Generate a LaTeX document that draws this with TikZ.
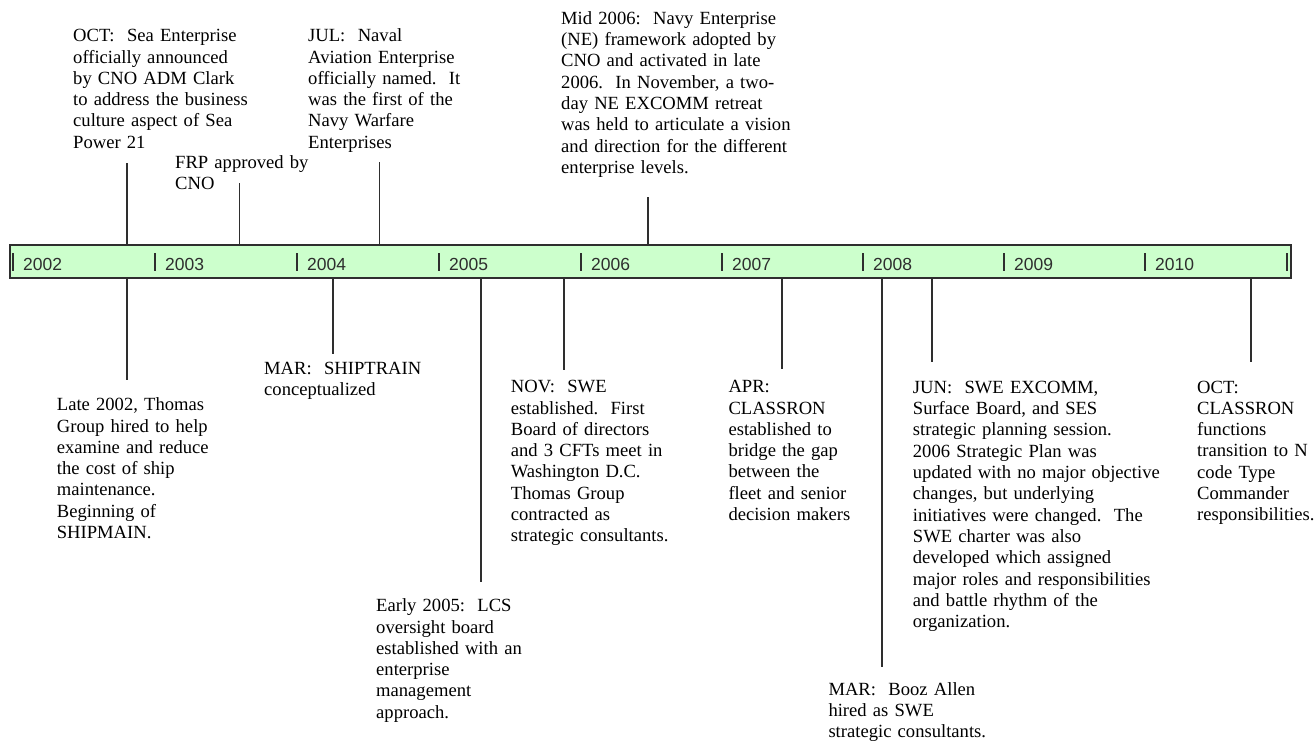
\documentclass[tikz,border=0pt]{standalone}
\usepackage{fontspec}
\setmainfont{Liberation Serif}
\newfontfamily\yearfont{Liberation Sans}
\definecolor{barfill}{HTML}{CCFFCC}
\definecolor{ink}{HTML}{2E2E2E}
\begin{document}
\begin{tikzpicture}[x=1pt,y=-1pt,
  note/.style={anchor=base west, inner sep=0pt, text width=330pt, align=left,
    font=\fontsize{18.6}{21.3}\selectfont, text=black},
  yearlabel/.style={anchor=base west, inner sep=0pt, font=\yearfont\fontsize{17.5}{20}\selectfont, text=ink},
  link/.style={draw=ink, line width=1.7pt},
  yeartick/.style={draw=ink, line width=1.8pt}]
\useasboundingbox (0,0) rectangle (1316,742);
% timeline bar
\node[draw=ink, line width=1.8pt, fill=barfill, minimum width=1281pt, minimum height=33.3pt,
  anchor=north west, inner sep=0pt, outer sep=0pt] (bar) at (10,245) {};
% year ticks and labels
\foreach \tx/\yr in {13/2002,155/2003,297/2004,439/2005,581/2006,722/2007,863/2008,1004/2009,1145/2010}{
  \draw[yeartick] (\tx,253) -- (\tx,271);
  \node[yearlabel] (y\yr) at (\tx+10,270) {\yr};
}
\coordinate (tend) at (1287,253);
\draw[yeartick] (tend) -- ++(0,18);

% ---------- events above the bar ----------
\node[note] (oct02) at (73,41.7) {OCT:~~Sea Enterprise\\officially announced\\by CNO ADM Clark\\to address the business\\culture aspect of Sea\\Power 21};
\node[note] (frp) at (175,168.4) {FRP approved by\\CNO};
\node[note] (jul04) at (308,41.7) {JUL:~~Naval\\Aviation Enterprise\\officially named.~~It\\was the first of the\\Navy Warfare\\Enterprises};
\node[note] (ne06) at (561,24.3) {Mid 2006:~~Navy Enterprise\\(NE) framework adopted by\\CNO and activated in late\\2006.~~In November, a two-\\day NE EXCOMM retreat\\was held to articulate a vision\\and direction for the different\\enterprise levels.};

\coordinate (a1) at (127,163);
\coordinate (a2) at (239.5,183);
\coordinate (a3) at (379.5,162);
\coordinate (a4) at (648,197);
\draw[link] (a1) -- (a1 |- bar.north);
\draw[link] (a2) -- (a2 |- bar.north);
\draw[link] (a3) -- (a3 |- bar.north);
\draw[link] (a4) -- (a4 |- bar.north);

% ---------- events below the bar ----------
\node[note] (late02) at (56.7,410.7) {Late 2002, Thomas\\Group hired to help\\examine and reduce\\the cost of ship\\maintenance.\\Beginning of\\SHIPMAIN.};
\node[note] (mar04) at (264,374.3) {MAR:~~SHIPTRAIN\\conceptualized};
\node[note] (nov05) at (510.7,392.7) {NOV:~~SWE\\established.~~First\\Board of directors\\and 3 CFTs meet in\\Washington D.C.\\Thomas Group\\contracted as\\strategic consultants.};
\node[note] (early05) at (376,611.7) {Early 2005:~~LCS\\oversight board\\established with an\\enterprise\\management\\approach.};
\node[note] (apr07) at (728.3,392.7) {APR:\\CLASSRON\\established to\\bridge the gap\\between the\\fleet and senior\\decision makers};
\node[note] (mar08) at (828.3,695) {MAR:~~Booz Allen\\hired as SWE\\strategic consultants.};
\node[note] (jun08) at (912.7,393.3) {JUN:~~SWE EXCOMM,\\Surface Board, and SES\\strategic planning session.\\2006 Strategic Plan was\\updated with no major objective\\changes, but underlying\\initiatives were changed.~~The\\SWE charter was also\\developed which assigned\\major roles and responsibilities\\and battle rhythm of the\\organization.};
\node[note, text width=118pt] (oct10) at (1197,393) {OCT:\\CLASSRON\\functions\\transition to N\\code Type\\Commander\\responsibilities.};

\coordinate (b1) at (127,380);
\coordinate (b2) at (332.7,354);
\coordinate (b3) at (480.7,582);
\coordinate (b4) at (564,370);
\coordinate (b5) at (781.7,369);
\coordinate (b6) at (882,667);
\coordinate (b7) at (932.3,362);
\coordinate (b8) at (1250.7,362);
\foreach \b in {b1,b2,b3,b4,b5,b6,b7,b8}{
  \draw[link] (\b |- bar.south) -- (\b);
}
\end{tikzpicture}
\end{document}
